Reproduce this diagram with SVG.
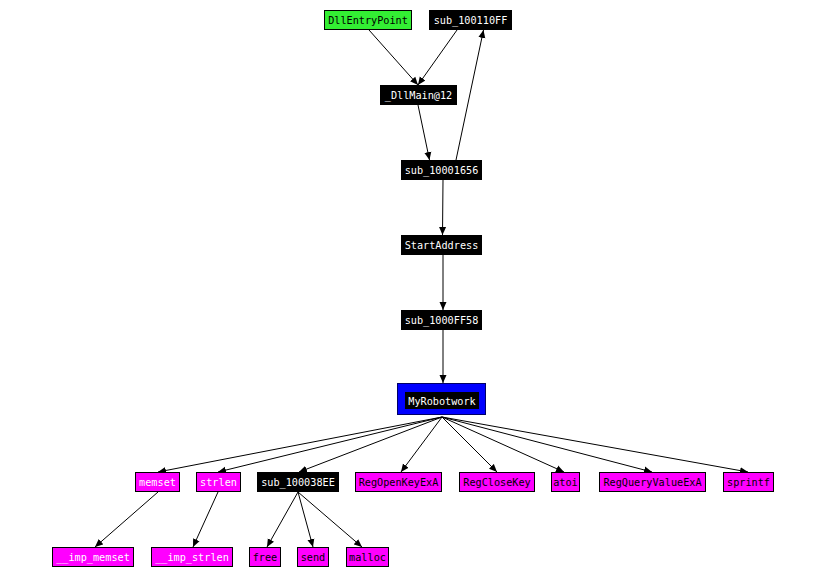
<svg xmlns="http://www.w3.org/2000/svg" width="827" height="582" viewBox="0 0 827 582">
<defs>
<marker id="arr" markerUnits="userSpaceOnUse" markerWidth="9" markerHeight="8" refX="8" refY="4" orient="auto">
<path d="M0,0.5 L8,4 L0,7.5 Z" fill="#000"/>
</marker>
<style>
.e{stroke:#000;stroke-width:1;fill:none;marker-end:url(#arr)}
.blk{fill:#000}
.mag{fill:#ff00ff;stroke:#000;stroke-width:1}
.grn{fill:#33ee33;stroke:#000;stroke-width:1}
.blu{fill:#0000ff;stroke:#000066;stroke-width:1}
text{font-family:"DejaVu Sans Mono","Liberation Mono",monospace;font-size:10.2px;text-anchor:middle}
.w{fill:#fff}
.d{fill:#000}
</style>
</defs>
<rect width="827" height="582" fill="#fff"/>
<g id="connectors">
<line class="e" x1="369" y1="30" x2="418" y2="85"/>
<line class="e" x1="457" y1="30" x2="418" y2="85"/>
<line class="e" x1="418" y1="105" x2="429.5" y2="160"/>
<line class="e" x1="456" y1="160" x2="483.5" y2="30"/>
<line class="e" x1="443" y1="180" x2="442.5" y2="235"/>
<line class="e" x1="443" y1="255" x2="443" y2="310"/>
<line class="e" x1="443" y1="330" x2="443" y2="383"/>
<line class="e" x1="442" y1="417" x2="158" y2="472"/>
<line class="e" x1="442" y1="417" x2="218" y2="472"/>
<line class="e" x1="442" y1="417" x2="299" y2="472"/>
<line class="e" x1="442" y1="417" x2="401" y2="472"/>
<line class="e" x1="442" y1="417" x2="497" y2="472"/>
<line class="e" x1="442" y1="417" x2="564" y2="472"/>
<line class="e" x1="442" y1="417" x2="652" y2="472"/>
<line class="e" x1="442" y1="417" x2="748" y2="472"/>
<line class="e" x1="158" y1="492" x2="95" y2="547"/>
<line class="e" x1="218" y1="492" x2="193" y2="547"/>
<line class="e" x1="298" y1="492" x2="267" y2="547"/>
<line class="e" x1="298" y1="492" x2="313" y2="547"/>
<line class="e" x1="298" y1="492" x2="362" y2="547"/>
</g>
<g id="DllEntryPoint"><rect class="grn" x="324.5" y="10.5" width="87" height="19"/><text class="d" x="368" y="24">DllEntryPoint</text></g>
<g id="sub_100110FF"><rect class="blk" x="429" y="10" width="83" height="20"/><text class="w" x="470.5" y="24">sub_100110FF</text></g>
<g id="DllMain12"><rect class="blk" x="380" y="85" width="77" height="20"/><text class="w" x="418.5" y="99">_DllMain@12</text></g>
<g id="sub_10001656"><rect class="blk" x="401" y="160" width="81" height="20"/><text class="w" x="441.5" y="174">sub_10001656</text></g>
<g id="StartAddress"><rect class="blk" x="401" y="235" width="81" height="20"/><text class="w" x="441.5" y="249">StartAddress</text></g>
<g id="sub_1000FF58"><rect class="blk" x="401" y="310" width="81" height="20"/><text class="w" x="441.5" y="324">sub_1000FF58</text></g>
<g id="MyRobotwork"><rect class="blu" x="397.5" y="383.5" width="88" height="31"/><rect class="blk" x="405" y="392" width="74" height="17"/><text class="w" x="442" y="404.5">MyRobotwork</text></g>
<g id="memset"><rect class="mag" x="135.5" y="472.5" width="44" height="19"/><text class="w" x="157.5" y="486">memset</text></g>
<g id="strlen"><rect class="mag" x="196.5" y="472.5" width="44" height="19"/><text class="w" x="218.5" y="486">strlen</text></g>
<g id="sub_100038EE"><rect class="blk" x="257" y="472" width="82" height="20"/><text class="w" x="298" y="486">sub_100038EE</text></g>
<g id="RegOpenKeyExA"><rect class="mag" x="355.5" y="472.5" width="86" height="19"/><text class="d" x="398.5" y="486">RegOpenKeyExA</text></g>
<g id="RegCloseKey"><rect class="mag" x="459.5" y="472.5" width="75" height="19"/><text class="d" x="497" y="486">RegCloseKey</text></g>
<g id="atoi"><rect class="mag" x="551.5" y="472.5" width="28" height="19"/><text class="d" x="565.5" y="486">atoi</text></g>
<g id="RegQueryValueExA"><rect class="mag" x="599.5" y="472.5" width="106" height="19"/><text class="d" x="652.5" y="486">RegQueryValueExA</text></g>
<g id="sprintf"><rect class="mag" x="723.5" y="472.5" width="50" height="19"/><text class="d" x="748.5" y="486">sprintf</text></g>
<g id="imp_memset"><rect class="mag" x="52.5" y="547.5" width="81" height="19"/><text class="w" x="93" y="561">__imp_memset</text></g>
<g id="imp_strlen"><rect class="mag" x="151.5" y="547.5" width="81" height="19"/><text class="w" x="192" y="561">__imp_strlen</text></g>
<g id="free"><rect class="mag" x="249.5" y="547.5" width="31" height="19"/><text class="d" x="265" y="561">free</text></g>
<g id="send"><rect class="mag" x="297.5" y="547.5" width="31" height="19"/><text class="d" x="313" y="561">send</text></g>
<g id="malloc"><rect class="mag" x="346.5" y="547.5" width="42" height="19"/><text class="d" x="367.5" y="561">malloc</text></g>
</svg>
